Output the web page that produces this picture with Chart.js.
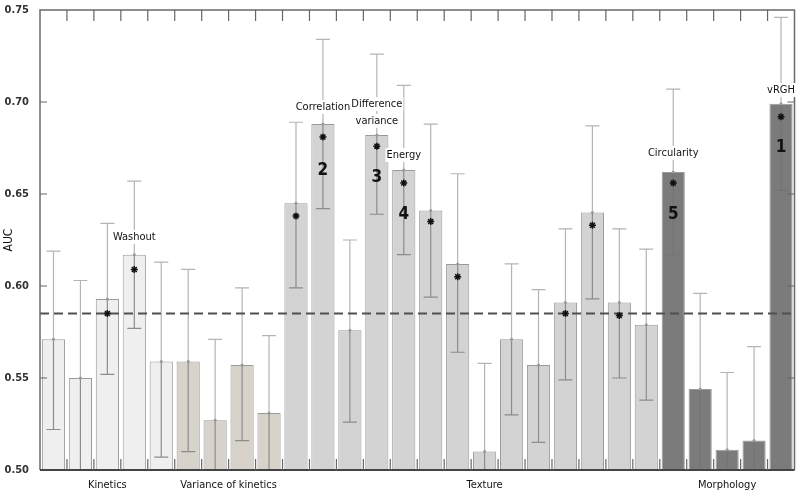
<!DOCTYPE html>
<html>
<head>
<meta charset="utf-8">
<script src="https://cdn.jsdelivr.net/npm/chart.js@4.4.1/dist/chart.umd.min.js"></script>
<style>
  body { margin: 0; background: #fff; }
  #wrap { width: 800px; height: 498px; }
</style>
</head>
<body>
<div id="wrap"><canvas id="myChart"></canvas></div>
<script>
const FONT = '"Liberation Sans Narrow", "DejaVu Sans Condensed", "Liberation Sans", sans-serif';

// one entry per feature (bar)
const groups = [
    'Kinetics', 'Kinetics', 'Kinetics', 'Kinetics', 'Kinetics',
    'Variance of kinetics', 'Variance of kinetics', 'Variance of kinetics', 'Variance of kinetics',
    'Texture', 'Texture', 'Texture', 'Texture', 'Texture', 'Texture', 'Texture',
    'Texture', 'Texture', 'Texture', 'Texture', 'Texture', 'Texture', 'Texture',
    'Morphology', 'Morphology', 'Morphology', 'Morphology', 'Morphology'
];
const categories = groups.map((g, i) => g + ' ' + (i + 1));
const auc   = [0.571, 0.550, 0.593, 0.617, 0.559, 0.559, 0.527, 0.557, 0.531, 0.645, 0.688, 0.576, 0.682, 0.663,
               0.641, 0.612, 0.510, 0.571, 0.557, 0.591, 0.640, 0.591, 0.579, 0.662, 0.544, 0.511, 0.516, 0.699];
const upper = [0.619, 0.603, 0.634, 0.657, 0.613, 0.609, 0.571, 0.599, 0.573, 0.689, 0.734, 0.625, 0.726, 0.709,
               0.688, 0.661, 0.558, 0.612, 0.598, 0.631, 0.687, 0.631, 0.620, 0.707, 0.596, 0.553, 0.567, 0.746];
const lower = [0.522, 0.497, 0.552, 0.577, 0.507, 0.510, 0.483, 0.516, 0.489, 0.599, 0.642, 0.526, 0.639, 0.617,
               0.594, 0.564, 0.462, 0.530, 0.515, 0.549, 0.593, 0.550, 0.538, 0.617, 0.493, 0.469, 0.465, 0.652];
const stars = [null, null, 0.585, 0.609, null, null, null, null, null, 0.638, 0.681, null, 0.676, 0.656,
               0.635, 0.605, null, null, null, 0.585, 0.633, 0.584, null, 0.656, null, null, null, 0.692];
const reference = 0.585;
const yTicks = [0.50, 0.55, 0.60, 0.65, 0.70, 0.75];

// feature names and ranks written on the plot: [bar index, value, text]
const names = [[3, 0.6266, 'Washout'], [10, 0.6973, 'Correlation'], [12, 0.6989, 'Difference'],
               [12, 0.6897, 'variance'], [13, 0.6712, 'Energy'], [23, 0.6723, 'Circularity'], [27, 0.7065, 'vRGH']];
const ranks = [[10, 0.663, '2'], [12, 0.6587, '3'], [13, 0.6386, '4'], [23, 0.6386, '5'], [27, 0.675, '1']];
// where each group title sits (bar index)
const groupTitles = [['Kinetics', 2], ['Variance of kinetics', 6.5], ['Texture', 16], ['Morphology', 25]];

const groupFill = {
    'Kinetics': '#efefef',
    'Variance of kinetics': '#d7d3cb',
    'Texture': '#d3d3d3',
    'Morphology': '#7b7b7b'
};

const errorBars = {
    id: 'errorBars',
    afterDatasetDraw(chart, args) {
        if (args.index !== 0) return;
        const { ctx, chartArea: a, scales: { x, y } } = chart;
        ctx.save();
        ctx.beginPath();
        ctx.rect(a.left, a.top, a.right - a.left, a.bottom - a.top);
        ctx.clip();
        ctx.lineWidth = 1.2;
        auc.forEach((v, i) => {
            const px = x.getPixelForValue(i);
            const yu = y.getPixelForValue(upper[i]);
            const yb = y.getPixelForValue(v);
            const yl = y.getPixelForValue(lower[i]);
            ctx.strokeStyle = '#b4b4b4';
            ctx.beginPath();
            ctx.moveTo(px, yb); ctx.lineTo(px, yu);
            ctx.moveTo(px - 7, yu); ctx.lineTo(px + 7, yu);
            ctx.stroke();
            ctx.strokeStyle = groups[i] === 'Morphology' ? '#747474' : '#8c8c8c';
            ctx.beginPath();
            ctx.moveTo(px, yb); ctx.lineTo(px, yl);
            ctx.moveTo(px - 7, yl); ctx.lineTo(px + 7, yl);
            ctx.stroke();
            ctx.fillStyle = '#999';
            ctx.beginPath();
            ctx.arc(px, yb, 1.5, 0, Math.PI * 2);
            ctx.fill();
        });
        const yr = y.getPixelForValue(reference);
        ctx.strokeStyle = '#505050';
        ctx.lineWidth = 2;
        ctx.setLineDash([9, 5]);
        ctx.beginPath();
        ctx.moveTo(a.left, yr); ctx.lineTo(a.right, yr);
        ctx.stroke();
        ctx.restore();
    }
};

const frame = {
    id: 'frame',
    afterDraw(chart) {
        const { ctx, chartArea: a, scales: { x, y } } = chart;
        ctx.save();
        ctx.lineWidth = 1.5;
        ctx.strokeStyle = '#6a6a6a';
        ctx.beginPath();
        ctx.moveTo(a.left, a.bottom); ctx.lineTo(a.left, a.top);
        ctx.lineTo(a.right, a.top); ctx.lineTo(a.right, a.bottom);
        ctx.stroke();
        ctx.strokeStyle = '#444';
        ctx.lineWidth = 2;
        ctx.beginPath();
        ctx.moveTo(a.left, a.bottom); ctx.lineTo(a.right, a.bottom);
        ctx.stroke();
        // tick marks, drawn inwards
        ctx.lineWidth = 1.2;
        ctx.strokeStyle = '#666';
        ctx.beginPath();
        for (let k = 1; k < categories.length; k++) {
            const bx = (x.getPixelForValue(k - 1) + x.getPixelForValue(k)) / 2;
            ctx.moveTo(bx, a.top); ctx.lineTo(bx, a.top + 11);
            ctx.moveTo(bx, a.bottom); ctx.lineTo(bx, a.bottom - 11);
        }
        yTicks.slice(1, -1).forEach(t => {
            const ty = y.getPixelForValue(t);
            ctx.moveTo(a.left, ty); ctx.lineTo(a.left + 7, ty);
            ctx.moveTo(a.right, ty); ctx.lineTo(a.right - 7, ty);
        });
        ctx.stroke();

        // feature names with white boxes
        ctx.font = '11px ' + FONT;
        ctx.textAlign = 'center';
        ctx.textBaseline = 'middle';
        names.forEach(([i, v, t]) => {
            const px = x.getPixelForValue(i);
            const py = y.getPixelForValue(v);
            const w = ctx.measureText(t).width;
            ctx.fillStyle = '#fff';
            ctx.fillRect(px - w / 2 - 1, py - 7, w + 2, 14);
            ctx.fillStyle = '#111';
            ctx.fillText(t, px, py);
        });
        ctx.font = 'bold 17px ' + FONT;
        ranks.forEach(([i, v, t]) => {
            ctx.fillStyle = '#111';
            ctx.fillText(t, x.getPixelForValue(i), y.getPixelForValue(v));
        });

        // group titles under the axis
        ctx.font = '11px ' + FONT;
        ctx.fillStyle = '#111';
        groupTitles.forEach(([t, i]) => {
            ctx.fillText(t, x.getPixelForValue(i), a.bottom + 15);
        });

        // y axis title
        ctx.translate(9, (a.top + a.bottom) / 2);
        ctx.rotate(-Math.PI / 2);
        ctx.font = '12px ' + FONT;
        ctx.fillText('AUC', 0, 0);
        ctx.restore();
    }
};

const ctx = document.getElementById('myChart').getContext('2d');
new Chart(ctx, {
    data: {
        labels: categories,
        datasets: [{
            type: 'bar',
            order: 2,
            data: auc,
            backgroundColor: groups.map(g => groupFill[g]),
            borderColor: '#9a9a9a',
            borderWidth: 1,
            barPercentage: 0.86,
            categoryPercentage: 1
        }, {
            type: 'line',
            order: 1,
            data: stars,
            showLine: false,
            pointStyle: 'star',
            pointRadius: 3.5,
            pointBorderColor: '#111',
            pointBorderWidth: 1.5,
            pointBackgroundColor: '#111'
        }]
    },
    options: {
        responsive: true,
        maintainAspectRatio: false,
        animation: false,
        layout: { padding: { top: 10, right: 4, left: 0, bottom: 0 } },
        plugins: { legend: { display: false }, tooltip: { enabled: false } },
        scales: {
            x: {
                grid: { display: false },
                border: { display: false },
                ticks: { display: false },
                afterFit: s => { s.height = 28; }
            },
            y: {
                min: 0.5,
                max: 0.75,
                grid: { display: false },
                border: { display: false },
                afterBuildTicks: s => { s.ticks = yTicks.map(v => ({ value: v })); },
                afterFit: s => { s.width = 40; },
                ticks: {
                    padding: 3,
                    color: '#333',
                    font: { family: FONT, size: 11, weight: 'bold' },
                    callback: v => v.toFixed(2)
                }
            }
        }
    },
    plugins: [errorBars, frame]
});
</script>
</body>
</html>
